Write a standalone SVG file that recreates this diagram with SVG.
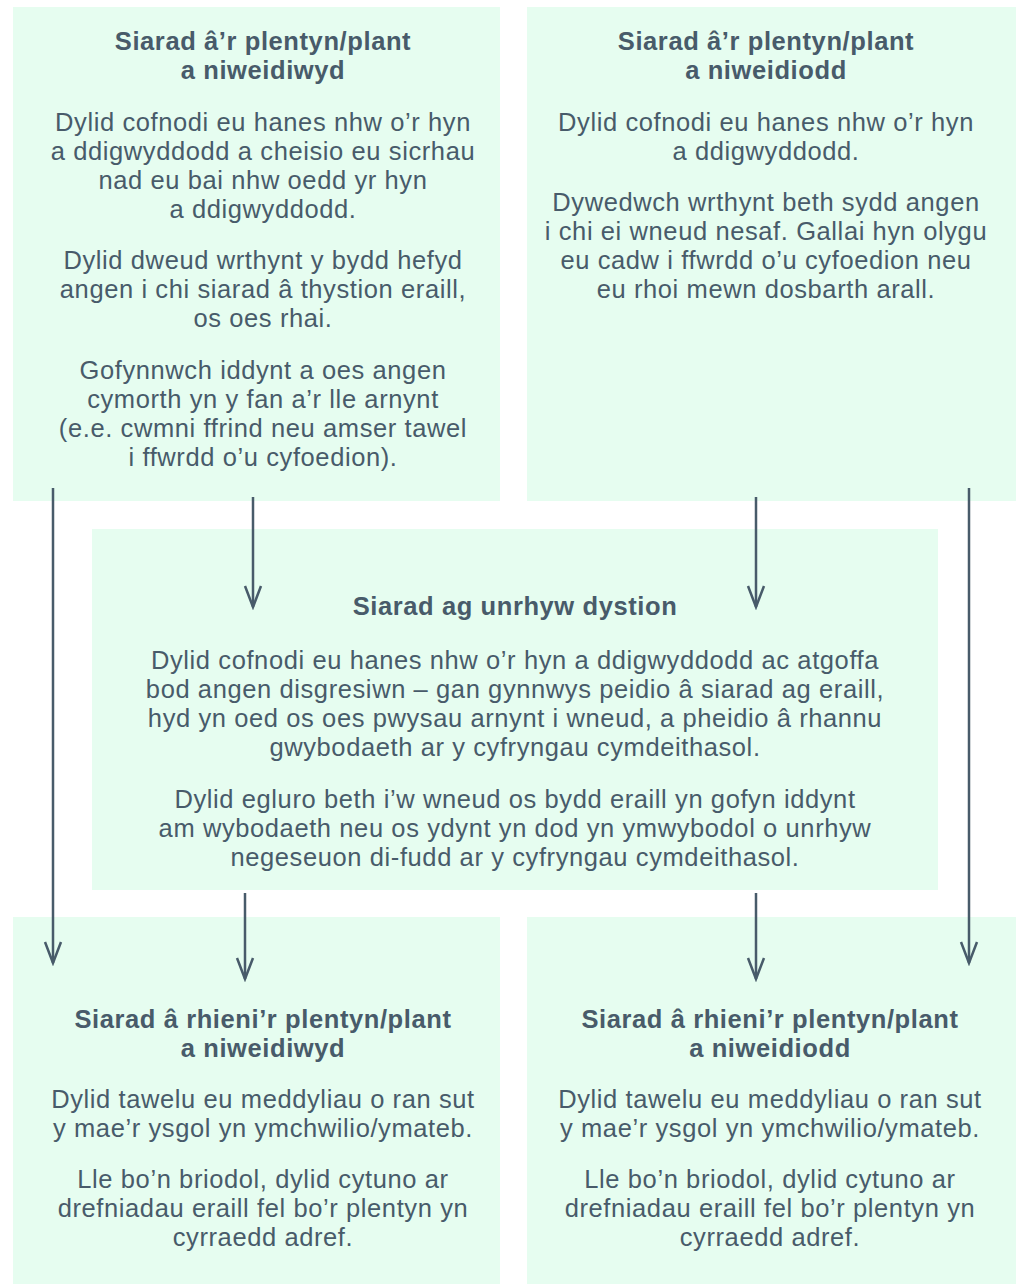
<svg xmlns="http://www.w3.org/2000/svg" width="1019" height="1284" viewBox="0 0 1019 1284">
<style>
.box{fill:#e6fdf0}
text{font-family:"Liberation Sans",Arial,Helvetica,sans-serif;fill:#485b6a;text-anchor:middle;font-size:25.5px;letter-spacing:0.6px}
.t{font-weight:bold}
.c{stroke:#485b6a;stroke-width:2.5;fill:none}
</style>
<defs>
<marker id="ah" markerUnits="userSpaceOnUse" markerWidth="26" markerHeight="20" refX="23" refY="10" orient="auto" viewBox="0 0 26 20">
<path d="M2,2 L23,10 L2,18" fill="none" stroke="#485b6a" stroke-width="2.5"/>
</marker>
</defs>
<rect width="1019" height="1284" fill="#ffffff"/>
<g id="node-top-left">
<rect class="box" x="13" y="7" width="487" height="494"/>
<text class="t" x="263" y="50">Siarad â’r plentyn/plant</text>
<text class="t" x="263" y="79">a niweidiwyd</text>
<text x="263" y="131">Dylid cofnodi eu hanes nhw o’r hyn</text>
<text x="263" y="160">a ddigwyddodd a cheisio eu sicrhau</text>
<text x="263" y="189">nad eu bai nhw oedd yr hyn</text>
<text x="263" y="218">a ddigwyddodd.</text>
<text x="263" y="269">Dylid dweud wrthynt y bydd hefyd</text>
<text x="263" y="298">angen i chi siarad â thystion eraill,</text>
<text x="263" y="327">os oes rhai.</text>
<text x="263" y="379">Gofynnwch iddynt a oes angen</text>
<text x="263" y="408">cymorth yn y fan a’r lle arnynt</text>
<text x="263" y="437">(e.e. cwmni ffrind neu amser tawel</text>
<text x="263" y="466">i ffwrdd o’u cyfoedion).</text>
</g>
<g id="node-top-right">
<rect class="box" x="527" y="7" width="489" height="494"/>
<text class="t" x="766" y="50">Siarad â’r plentyn/plant</text>
<text class="t" x="766" y="79">a niweidiodd</text>
<text x="766" y="131">Dylid cofnodi eu hanes nhw o’r hyn</text>
<text x="766" y="160">a ddigwyddodd.</text>
<text x="766" y="211">Dywedwch wrthynt beth sydd angen</text>
<text x="766" y="240">i chi ei wneud nesaf. Gallai hyn olygu</text>
<text x="766" y="269">eu cadw i ffwrdd o’u cyfoedion neu</text>
<text x="766" y="298">eu rhoi mewn dosbarth arall.</text>
</g>
<g id="node-middle">
<rect class="box" x="92" y="529" width="846" height="361"/>
<text class="t" x="515" y="615">Siarad ag unrhyw dystion</text>
<text x="515" y="669">Dylid cofnodi eu hanes nhw o’r hyn a ddigwyddodd ac atgoffa</text>
<text x="515" y="698">bod angen disgresiwn – gan gynnwys peidio â siarad ag eraill,</text>
<text x="515" y="727">hyd yn oed os oes pwysau arnynt i wneud, a pheidio â rhannu</text>
<text x="515" y="756">gwybodaeth ar y cyfryngau cymdeithasol.</text>
<text x="515" y="808">Dylid egluro beth i’w wneud os bydd eraill yn gofyn iddynt</text>
<text x="515" y="837">am wybodaeth neu os ydynt yn dod yn ymwybodol o unrhyw</text>
<text x="515" y="866">negeseuon di-fudd ar y cyfryngau cymdeithasol.</text>
</g>
<g id="node-bottom-left">
<rect class="box" x="13" y="917" width="487" height="367"/>
<text class="t" x="263" y="1028">Siarad â rhieni’r plentyn/plant</text>
<text class="t" x="263" y="1057">a niweidiwyd</text>
<text x="263" y="1108">Dylid tawelu eu meddyliau o ran sut</text>
<text x="263" y="1137">y mae’r ysgol yn ymchwilio/ymateb.</text>
<text x="263" y="1188">Lle bo’n briodol, dylid cytuno ar</text>
<text x="263" y="1217">drefniadau eraill fel bo’r plentyn yn</text>
<text x="263" y="1246">cyrraedd adref.</text>
</g>
<g id="node-bottom-right">
<rect class="box" x="527" y="917" width="489" height="367"/>
<text class="t" x="770" y="1028">Siarad â rhieni’r plentyn/plant</text>
<text class="t" x="770" y="1057">a niweidiodd</text>
<text x="770" y="1108">Dylid tawelu eu meddyliau o ran sut</text>
<text x="770" y="1137">y mae’r ysgol yn ymchwilio/ymateb.</text>
<text x="770" y="1188">Lle bo’n briodol, dylid cytuno ar</text>
<text x="770" y="1217">drefniadau eraill fel bo’r plentyn yn</text>
<text x="770" y="1246">cyrraedd adref.</text>
</g>
<g id="connectors">
<line class="c" x1="53" y1="488" x2="53" y2="963" marker-end="url(#ah)"/>
<line class="c" x1="253" y1="497" x2="253" y2="607" marker-end="url(#ah)"/>
<line class="c" x1="756" y1="497" x2="756" y2="607" marker-end="url(#ah)"/>
<line class="c" x1="969" y1="488" x2="969" y2="963" marker-end="url(#ah)"/>
<line class="c" x1="245" y1="893" x2="245" y2="979" marker-end="url(#ah)"/>
<line class="c" x1="756" y1="893" x2="756" y2="979" marker-end="url(#ah)"/>
</g>
</svg>
